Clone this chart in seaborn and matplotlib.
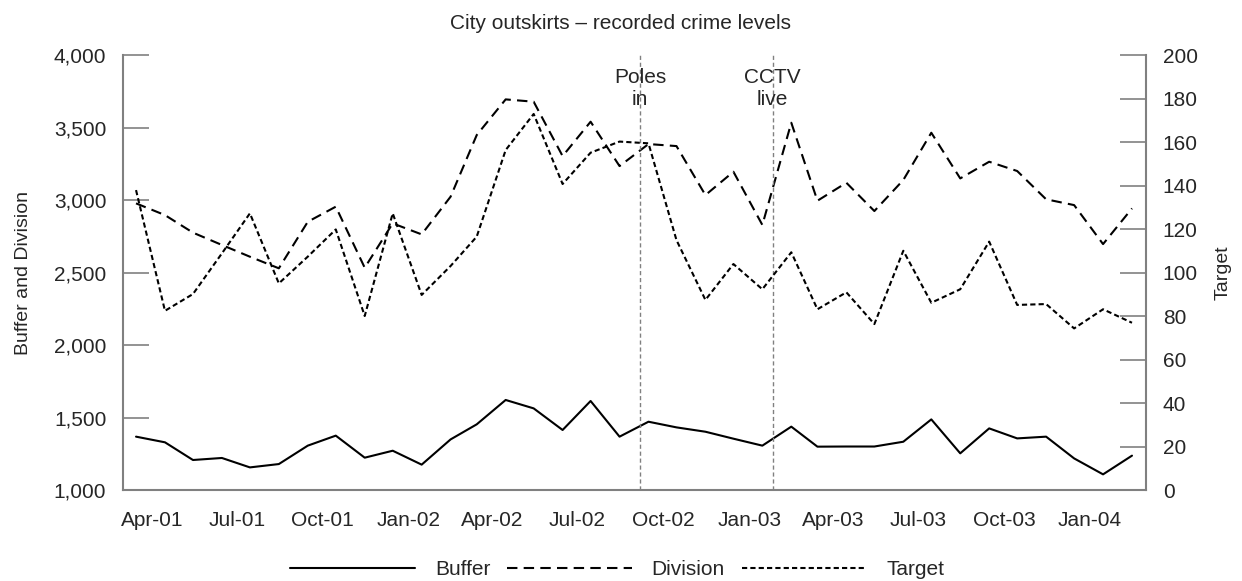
"""
City outskirts crime levels - Buffer / Division on the left axis, Target on the right.
"""

import pandas as pd
import matplotlib.pyplot as plt
import seaborn as sns
from matplotlib.lines import Line2D
from matplotlib.ticker import FuncFormatter

# Monthly points, plotted mid-month (Mar-01 .. Feb-04)
months = pd.date_range("2001-03-01", periods=36, freq="MS") + pd.Timedelta(days=14)

buffer = [1368, 1329, 1207, 1221, 1156, 1179, 1306, 1375, 1223, 1271, 1175, 1349,
          1453, 1621, 1563, 1414, 1614, 1368, 1471, 1432, 1402, 1354, 1306, 1437,
          1299, 1300, 1300, 1333, 1487, 1253, 1425, 1356, 1368, 1218, 1108, 1237]
division = [2977, 2896, 2775, 2690, 2609, 2529, 2850, 2954, 2533, 2839, 2763, 3023,
            3448, 3694, 3678, 3303, 3540, 3234, 3386, 3372, 3034, 3195, 2828, 3533,
            2995, 3119, 2924, 3138, 3464, 3149, 3264, 3200, 3005, 2965, 2696, 2942]
target = [137.9, 82.4, 90.1, 108.8, 127.2, 95.0, 107.3, 119.8, 80.0, 127.2, 89.7, 103.0,
          116.5, 156.3, 172.9, 140.7, 155.1, 160.2, 159.4, 114.9, 87.4, 103.9, 92.3, 109.3,
          83.1, 90.9, 76.3, 110.0, 86.1, 92.3, 114.2, 85.1, 85.5, 74.3, 83.1, 76.9]

tick_months = pd.date_range("2001-04-01", "2004-01-01", freq="3MS")
tick_labels = [d.strftime("%b-%y") for d in tick_months]

event_labels = ["Poles\nin", "CCTV\nlive"]
event_dates = pd.to_datetime(["2002-09-06", "2003-01-26"])

sns.set_style("white")
plt.rcParams["font.family"] = ["Liberation Sans", "DejaVu Sans"]

GREY = "#808080"
FS = 15

fig = plt.figure(figsize=(12.42, 5.81), dpi=100)
ax = fig.add_axes([0.099, 0.1566, 0.8237, 0.7487])
ax2 = ax.twinx()

df = pd.DataFrame({"month": months, "Buffer": buffer, "Division": division, "Target": target})

sns.lineplot(data=df, x="month", y="Buffer", ax=ax, color="black", linewidth=1.5)
sns.lineplot(data=df, x="month", y="Division", ax=ax, color="black", linewidth=1.5)
ax.lines[-1].set_linestyle((0, (5, 3)))
sns.lineplot(data=df, x="month", y="Target", ax=ax2, color="black", linewidth=1.5)
ax2.lines[-1].set_linestyle((0, (2.5, 1.5)))

# Event markers
for lab, d in zip(event_labels, event_dates):
    ax.axvline(d, color=GREY, linestyle=(0, (3, 2)), linewidth=1)
    ax.text(d, 0.924, lab, transform=ax.get_xaxis_transform(), ha="center", va="center",
            fontsize=FS, linespacing=1.2)

ax.set_xlim(pd.Timestamp("2001-03-01"), pd.Timestamp("2004-03-01"))
ax.set_xticks(tick_months)
ax.set_xticklabels(tick_labels)

ax.set_ylim(1000, 4000)
ax.set_yticks(range(1000, 4001, 500))
ax.yaxis.set_major_formatter(FuncFormatter(lambda v, p: f"{v:,.0f}"))
ax2.set_ylim(0, 200)
ax2.set_yticks(range(0, 201, 20))

ax.set_xlabel("")
ax.set_ylabel("Buffer and Division", fontsize=14)
ax.yaxis.set_label_coords(-0.089, 0.5)
ax2.set_ylabel("Target", fontsize=14)
ax2.yaxis.set_label_coords(1.067, 0.5)

for a in (ax, ax2):
    for s in a.spines.values():
        s.set_color(GREY)
        s.set_linewidth(1.5)
    a.spines["top"].set_visible(False)
ax.spines["right"].set_visible(False)
ax2.spines["left"].set_visible(False)
ax2.spines["bottom"].set_visible(False)

ax.tick_params(axis="y", direction="in", length=19, width=1.2, color=GREY, labelsize=FS, pad=12)
ax2.tick_params(axis="y", direction="in", length=19, width=1.2, color=GREY, labelsize=FS, pad=12)
ax.tick_params(axis="x", direction="in", length=8, width=1.2, color=GREY, labelsize=FS, pad=15)

fig.text(0.5, 0.960, "City outskirts \u2013 recorded crime levels", ha="center", va="center", fontsize=FS)

handles = [
    Line2D([], [], color="black", linewidth=1.5),
    Line2D([], [], color="black", linewidth=1.5, linestyle=(0, (5, 3))),
    Line2D([], [], color="black", linewidth=1.5, linestyle=(0, (2.5, 1.5))),
]
fig.legend(handles, ["Buffer", "Division", "Target"], loc="center", bbox_to_anchor=(0.497, 0.019),
           ncol=3, frameon=False, fontsize=FS, handlelength=6.0, columnspacing=0.8, handletextpad=0.95)

fig.savefig("out.png", dpi=100)
